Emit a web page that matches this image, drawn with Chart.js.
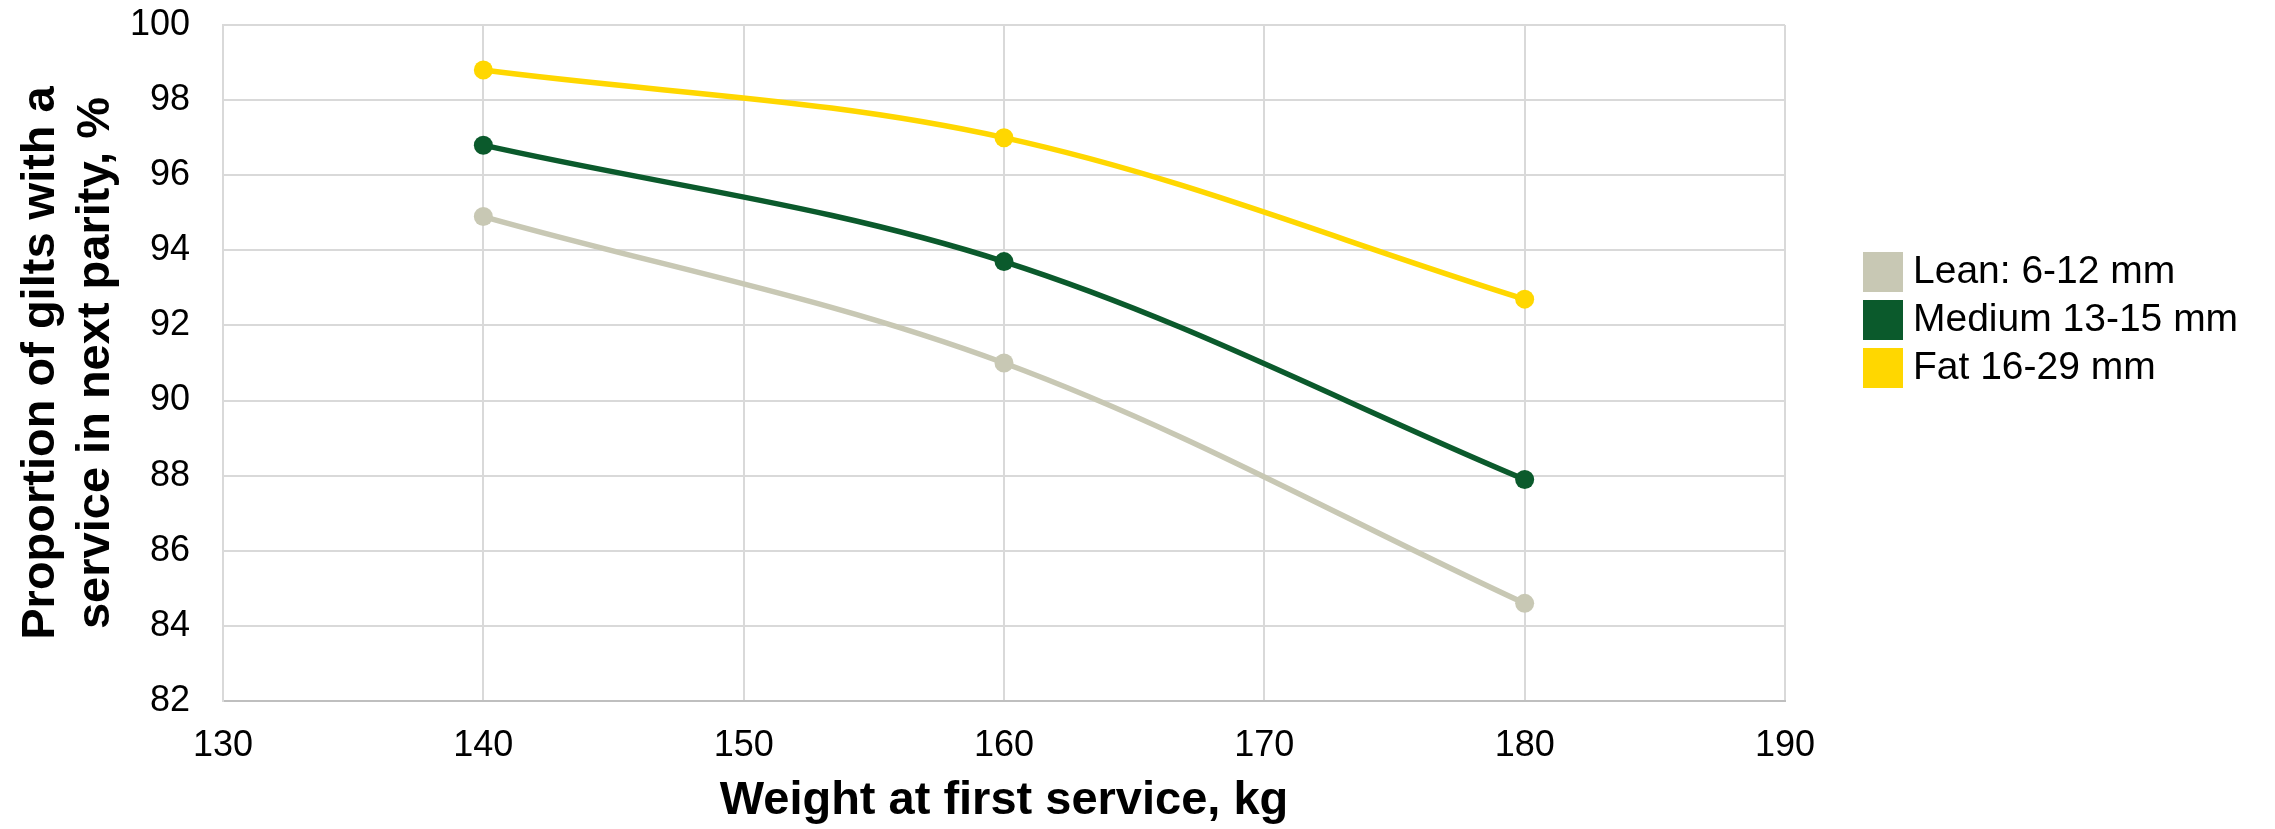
<!DOCTYPE html>
<html>
<head>
<meta charset="utf-8">
<script src="https://cdn.jsdelivr.net/npm/chart.js@4.4.1/dist/chart.umd.min.js"></script>
<style>
  html, body { margin: 0; padding: 0; background: #ffffff; }
  #wrap { width: 2275px; height: 829px; position: relative; }
</style>
</head>
<body>
<div id="wrap"><canvas id="c" width="2275" height="829"></canvas></div>
<script>
// ---- Data ----
const weights = [140, 160, 180];
const seriesNames = ['Lean: 6-12 mm', 'Medium 13-15 mm', 'Fat 16-29 mm'];
const leanValues = [94.9, 91.0, 84.6];
const mediumValues = [96.8, 93.7, 87.9];
const fatValues = [98.8, 97.0, 92.7];
const xTicks = [130, 140, 150, 160, 170, 180, 190];
const yTicks = [82, 84, 86, 88, 90, 92, 94, 96, 98, 100];

const colors = ['#C8C8B4', '#0B5A2C', '#FFD700'];
const FONT = '"Liberation Sans", Arial, sans-serif';

function toPoints(vals) { return weights.map((w, i) => ({ x: w, y: vals[i] })); }

function ds(label, vals, color) {
  return {
    label: label,
    data: toPoints(vals),
    borderColor: color,
    backgroundColor: color,
    borderWidth: 5.5,
    pointRadius: 9.5,
    pointHoverRadius: 9.5,
    pointBorderWidth: 0,
    pointBackgroundColor: color,
    tension: 0.35,
    fill: false
  };
}

const legendPlugin = {
  id: 'customLegend',
  afterDraw(chart) {
    const ctx = chart.ctx;
    ctx.save();
    ctx.font = '39px ' + FONT;
    ctx.textBaseline = 'middle';
    ctx.textAlign = 'left';
    chart.data.datasets.forEach((d, i) => {
      const top = 252 + i * 48;
      ctx.fillStyle = d.borderColor;
      ctx.fillRect(1863, top, 40, 40);
      ctx.fillStyle = '#000000';
      ctx.fillText(d.label, 1913, top + 20);
    });
    ctx.restore();
  }
};

new Chart(document.getElementById('c'), {
  type: 'line',
  data: {
    datasets: [
      ds(seriesNames[0], leanValues, colors[0]),
      ds(seriesNames[1], mediumValues, colors[1]),
      ds(seriesNames[2], fatValues, colors[2])
    ]
  },
  options: {
    responsive: false,
    animation: false,
    devicePixelRatio: 1,
    layout: { padding: { top: 25, right: 490, left: 0, bottom: 0 } },
    plugins: {
      legend: { display: false },
      tooltip: { enabled: false }
    },
    scales: {
      x: {
        type: 'linear',
        min: xTicks[0],
        max: xTicks[xTicks.length - 1],
        afterBuildTicks(scale) { scale.ticks = xTicks.map(v => ({ value: v })); },
        afterFit(scale) { scale.height = 128; },
        grid: { color: '#D9D9D9', lineWidth: 2, drawTicks: true, tickLength: 23, tickColor: 'rgba(0,0,0,0)' },
        border: { color: '#BFBFBF', width: 2 },
        ticks: {
          padding: 0,
          color: '#000000',
          font: { family: FONT, size: 36 },
          maxRotation: 0
        },
        title: {
          display: true,
          text: 'Weight at first service, kg',
          color: '#000000',
          font: { family: FONT, size: 47, weight: 'bold', lineHeight: 1.17 },
          padding: { top: 0, bottom: 0 }
        }
      },
      y: {
        type: 'linear',
        min: yTicks[0],
        max: yTicks[yTicks.length - 1],
        afterBuildTicks(scale) { scale.ticks = yTicks.map(v => ({ value: v })); },
        afterFit(scale) { scale.width = 223; },
        grid: { color: '#D9D9D9', lineWidth: 2, drawTicks: true, tickLength: 33, tickColor: 'rgba(0,0,0,0)' },
        border: { color: '#D9D9D9', width: 2 },
        ticks: {
          padding: 0,
          color: '#000000',
          font: { family: FONT, size: 36 }
        },
        title: {
          display: true,
          text: ['Proportion of gilts with a', 'service in next parity, %'],
          color: '#000000',
          font: { family: FONT, size: 47, weight: 'bold', lineHeight: 1.17 },
          padding: { top: 13.5, bottom: 0 }
        }
      }
    }
  },
  plugins: [legendPlugin]
});
</script>
</body>
</html>
